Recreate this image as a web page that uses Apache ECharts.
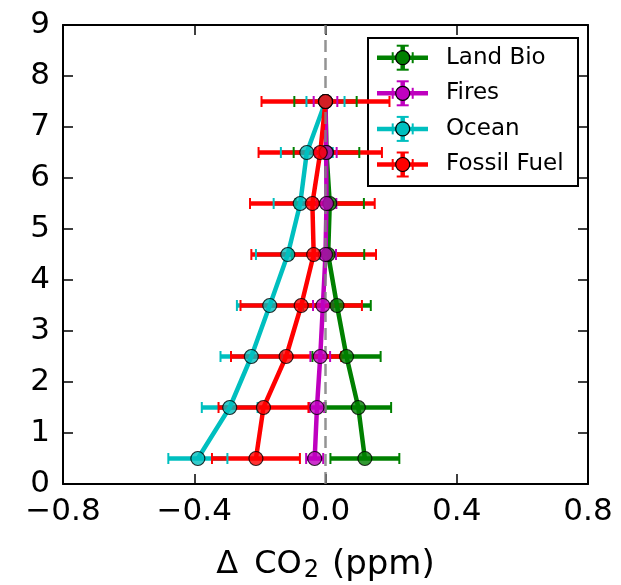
<!DOCTYPE html>
<html>
<head>
<meta charset="utf-8">
<script src="https://cdn.jsdelivr.net/npm/echarts@6/dist/echarts.min.js"></script>
<style>html,body{margin:0;padding:0;background:#fff;}#c{width:621px;height:585px;}</style>
</head>
<body>
<div id="c"></div>
<script>
// ---- data ----
const levels = [0.5, 1.5, 2.5, 3.5, 4.5, 5.5, 6.5, 7.5];
const seriesNames = ['Land Bio', 'Fires', 'Ocean', 'Fossil Fuel'];
const landBio    = [0.120, 0.100, 0.064, 0.035, 0.008, 0.013, 0.003, 0.000];
const landBioErr = [0.105, 0.100, 0.104, 0.103, 0.110, 0.104, 0.100, 0.095];
const fires      = [-0.033, -0.026, -0.016, -0.008, 0.000, 0.003, 0.002, 0.000];
const firesErr   = [0.026, 0.022, 0.030, 0.030, 0.032, 0.030, 0.032, 0.036];
const ocean      = [-0.389, -0.292, -0.226, -0.170, -0.115, -0.077, -0.057, 0.000];
const oceanErr   = [0.090, 0.085, 0.094, 0.100, 0.097, 0.081, 0.079, 0.058];
const fossil     = [-0.212, -0.189, -0.120, -0.074, -0.036, -0.040, -0.016, 0.000];
const fossilErr  = [0.134, 0.137, 0.168, 0.185, 0.190, 0.190, 0.188, 0.195];
const xTicks = [-0.8, -0.4, 0.0, 0.4, 0.8];
const yTicks = [0, 1, 2, 3, 4, 5, 6, 7, 8, 9];

const values = [landBio, fires, ocean, fossil];
const errors = [landBioErr, firesErr, oceanErr, fossilErr];
const colors = ['#008000', '#bf00bf', '#00bfbf', '#ff0000'];
const FONT = 'DejaVu Sans';

const chart = echarts.init(document.getElementById('c'), null, {renderer: 'canvas'});

function fmtX(v) {
  const s = Number(v).toFixed(1);
  return s.replace('-', '\u2212');
}

const barSeries = [], capSeries = [], lineSeries = [], dotSeries = [];
values.forEach((vals, k) => {
  const errData = vals.map((v, i) => [v - errors[k][i], v + errors[k][i], levels[i]]);
  barSeries.push({
    type: 'custom', name: seriesNames[k] + ' err', z: 1, silent: true,
    encode: {x: [0, 1], y: 2},
    data: errData,
    renderItem: (params, api) => {
      const y = api.value(2);
      const p1 = api.coord([api.value(0), y]);
      const p2 = api.coord([api.value(1), y]);
      return {type: 'line', shape: {x1: p1[0], y1: p1[1], x2: p2[0], y2: p2[1]},
              style: {stroke: colors[k], lineWidth: 4.5}};
    }
  });
  capSeries.push({
    type: 'custom', name: seriesNames[k] + ' caps', z: 2, silent: true,
    encode: {x: [0, 1], y: 2},
    data: errData,
    renderItem: (params, api) => {
      const y = api.value(2);
      const p1 = api.coord([api.value(0), y]);
      const p2 = api.coord([api.value(1), y]);
      const h = 5.5;
      return {type: 'group', children: [
        {type: 'line', shape: {x1: p1[0], y1: p1[1] - h, x2: p1[0], y2: p1[1] + h}, style: {stroke: colors[k], lineWidth: 2}},
        {type: 'line', shape: {x1: p2[0], y1: p2[1] - h, x2: p2[0], y2: p2[1] + h}, style: {stroke: colors[k], lineWidth: 2}}
      ]};
    }
  });
  const pts = vals.map((v, i) => [v, levels[i]]);
  lineSeries.push({
    type: 'line', name: seriesNames[k], z: 3, data: pts, showSymbol: false, symbol: 'none',
    lineStyle: {color: colors[k], width: 4.5}, itemStyle: {color: colors[k]}, animation: false
  });
  dotSeries.push({
    type: 'scatter', name: seriesNames[k] + ' pts', z: 5 + k, data: pts, symbol: 'circle', symbolSize: 14,
    itemStyle: {color: colors[k], borderColor: '#000', borderWidth: 1.2}, animation: false
  });
});

const zeroLine = {
  type: 'line', name: 'zero', z: 4, data: [], silent: true,
  markLine: {
    silent: true, symbol: 'none', label: {show: false}, animation: false,
    lineStyle: {color: '#808080', type: [12, 6], width: 2.5, opacity: 0.85},
    data: [{xAxis: 0}]
  }
};

// legend drawn as graphic (errorbar-style keys)
const legendChildren = [{
  type: 'rect', shape: {x: 0, y: 0, width: 210, height: 148},
  style: {fill: '#fff', stroke: '#000', lineWidth: 2}
}];
seriesNames.forEach((nm, i) => {
  const cy = 19.7 + i * 35.6;
  const cx = 34.7;
  const c = colors[i];
  legendChildren.push(
    {type: 'line', shape: {x1: 9, y1: cy, x2: 60, y2: cy}, style: {stroke: c, lineWidth: 4.5}},
    {type: 'line', shape: {x1: cx, y1: cy - 12, x2: cx, y2: cy + 12}, style: {stroke: c, lineWidth: 4.5}},
    {type: 'line', shape: {x1: cx - 6, y1: cy - 12, x2: cx + 6, y2: cy - 12}, style: {stroke: c, lineWidth: 2}},
    {type: 'line', shape: {x1: cx - 6, y1: cy + 12, x2: cx + 6, y2: cy + 12}, style: {stroke: c, lineWidth: 2}},
    {type: 'line', shape: {x1: cx - 10, y1: cy - 5.5, x2: cx - 10, y2: cy + 5.5}, style: {stroke: c, lineWidth: 2}},
    {type: 'line', shape: {x1: cx + 10, y1: cy - 5.5, x2: cx + 10, y2: cy + 5.5}, style: {stroke: c, lineWidth: 2}},
    {type: 'circle', shape: {cx: cx, cy: cy, r: 7}, style: {fill: c, stroke: '#000', lineWidth: 1.2}},
    {type: 'text', x: 78, y: cy, style: {text: nm, fontFamily: FONT, fontSize: 23, fill: '#000', verticalAlign: 'middle', align: 'left'}}
  );
});

const axisCommon = {
  type: 'value',
  axisLine: {show: true, onZero: false, lineStyle: {color: '#000', width: 2}},
  axisTick: {show: true, inside: true, length: 10, lineStyle: {color: '#000', width: 1.5}},
  splitLine: {show: false}
};

const option = {
  animation: false,
  backgroundColor: '#fff',
  grid: {left: 63, right: 33, top: 25, bottom: 101, containLabel: false, outerBoundsMode: 'none'},
  xAxis: [
    Object.assign({}, axisCommon, {
      position: 'bottom', min: xTicks[0], max: xTicks[xTicks.length - 1], interval: 0.4,
      axisLabel: {fontFamily: FONT, fontSize: 31, color: '#000', margin: 12, formatter: fmtX},
      name: '{d|\u0394}{a|CO}{s|2}{p|(ppm)}', nameLocation: 'middle', nameGap: 63,
      nameTextStyle: {fontFamily: FONT, color: '#000', rich: {
        d: {fontFamily: FONT, fontSize: 32, color: '#000', lineHeight: 36, padding: [0, 16, 0, 0]},
        a: {fontFamily: FONT, fontSize: 32, color: '#000', lineHeight: 36},
        s: {fontFamily: FONT, fontSize: 24, color: '#000', lineHeight: 10, verticalAlign: 'bottom', padding: [0, 13, 0, 2]},
        p: {fontFamily: FONT, fontSize: 34, color: '#000', lineHeight: 36}
      }}
    }),
    Object.assign({}, axisCommon, {
      position: 'top', min: xTicks[0], max: xTicks[xTicks.length - 1], interval: 0.4,
      axisLabel: {show: false}
    })
  ],
  yAxis: [
    Object.assign({}, axisCommon, {
      position: 'left', min: yTicks[0], max: yTicks[yTicks.length - 1], interval: 1,
      axisLabel: {fontFamily: FONT, fontSize: 31, color: '#000', margin: 13}
    }),
    Object.assign({}, axisCommon, {
      position: 'right', min: yTicks[0], max: yTicks[yTicks.length - 1], interval: 1,
      axisLabel: {show: false}
    })
  ],
  series: [].concat(barSeries, capSeries, lineSeries, [zeroLine], dotSeries),
  graphic: [{type: 'group', left: 367, top: 37, z: 100, children: legendChildren}]
};
chart.setOption(option);
</script>
</body>
</html>
